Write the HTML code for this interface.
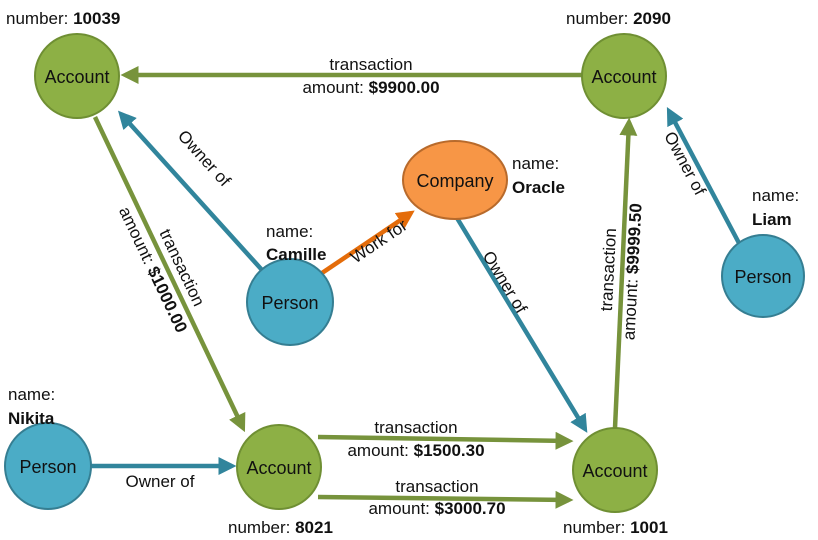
<!DOCTYPE html>
<html><head><meta charset="utf-8"><style>
html,body{margin:0;padding:0;background:#fff}
svg{display:block}
text{font-family:"Liberation Sans",sans-serif;font-size:17px;fill:#111}
.n{font-size:18px}
.b{font-weight:bold}
</style></head><body>
<svg width="818" height="540" viewBox="0 0 818 540" xmlns="http://www.w3.org/2000/svg">
<defs>
<marker id="g" markerWidth="4" markerHeight="4" refX="3" refY="2" orient="auto" markerUnits="strokeWidth"><path d="M0,0 L4,2 L0,4 Z" fill="#77933c"/></marker>
<marker id="bl" markerWidth="4" markerHeight="4" refX="3" refY="2" orient="auto" markerUnits="strokeWidth"><path d="M0,0 L4,2 L0,4 Z" fill="#31859c"/></marker>
<marker id="o" markerWidth="4" markerHeight="4" refX="3" refY="2" orient="auto" markerUnits="strokeWidth"><path d="M0,0 L4,2 L0,4 Z" fill="#e46c0a"/></marker>
</defs>
<g stroke-width="4.5" fill="none">
<line x1="582" y1="75" x2="125" y2="75" stroke="#77933c" marker-end="url(#g)"/>
<line x1="262" y1="270" x2="121" y2="114" stroke="#31859c" marker-end="url(#bl)"/>
<line x1="95" y1="117" x2="243" y2="428" stroke="#77933c" marker-end="url(#g)"/>
<line x1="322" y1="273" x2="411" y2="213" stroke="#e46c0a" marker-end="url(#o)"/>
<line x1="457" y1="218" x2="585" y2="429" stroke="#31859c" marker-end="url(#bl)"/>
<line x1="615" y1="428" x2="629" y2="122" stroke="#77933c" marker-end="url(#g)"/>
<line x1="740" y1="245" x2="669" y2="111" stroke="#31859c" marker-end="url(#bl)"/>
<line x1="91" y1="466" x2="232" y2="466" stroke="#31859c" marker-end="url(#bl)"/>
<line x1="318" y1="437" x2="569" y2="441" stroke="#77933c" marker-end="url(#g)"/>
<line x1="318" y1="497" x2="569" y2="500" stroke="#77933c" marker-end="url(#g)"/>
</g>
<g stroke-width="2">
<circle cx="77" cy="76" r="42" fill="#8db045" stroke="#6f8f33"/>
<circle cx="624" cy="76" r="42" fill="#8db045" stroke="#6f8f33"/>
<circle cx="279" cy="467" r="42" fill="#8db045" stroke="#6f8f33"/>
<circle cx="615" cy="470" r="42" fill="#8db045" stroke="#6f8f33"/>
<ellipse cx="455" cy="180" rx="52" ry="39" fill="#f79646" stroke="#b86a2b"/>
<circle cx="290" cy="302" r="43" fill="#4bacc6" stroke="#357e92"/>
<circle cx="763" cy="276" r="41" fill="#4bacc6" stroke="#357e92"/>
<circle cx="48" cy="466" r="43" fill="#4bacc6" stroke="#357e92"/>
</g>
<g text-anchor="middle">
<text x="77" y="83" class="n">Account</text>
<text x="624" y="83" class="n">Account</text>
<text x="279" y="474" class="n">Account</text>
<text x="615" y="477" class="n">Account</text>
<text x="455" y="187" class="n">Company</text>
<text x="290" y="309" class="n">Person</text>
<text x="763" y="283" class="n">Person</text>
<text x="48" y="473" class="n">Person</text>
</g>
<text x="6" y="24">number: <tspan class="b">10039</tspan></text>
<text x="566" y="24">number: <tspan class="b">2090</tspan></text>
<text x="228" y="533">number: <tspan class="b">8021</tspan></text>
<text x="563" y="533">number: <tspan class="b">1001</tspan></text>
<text x="512" y="169">name:</text><text x="512" y="193" class="b">Oracle</text>
<text x="266" y="237">name:</text><text x="266" y="260" class="b">Camille</text>
<text x="752" y="201">name:</text><text x="752" y="225" class="b">Liam</text>
<text x="8" y="400">name:</text><text x="8" y="424" class="b">Nikita</text>
<g text-anchor="middle">
<text x="371" y="70">transaction</text>
<text x="371" y="93">amount: <tspan class="b">$9900.00</tspan></text>
<text transform="translate(200,162) rotate(47.8)">Owner of</text>
<text transform="translate(177,270) rotate(64.6)">transaction</text>
<text transform="translate(148,272) rotate(64.6)">amount: <tspan class="b">$1000.00</tspan></text>
<text transform="translate(382,246) rotate(-34)">Work for</text>
<text transform="translate(500,285) rotate(58.8)">Owner of</text>
<text transform="translate(614,270) rotate(-87)">transaction</text>
<text transform="translate(638,272) rotate(-87)">amount: <tspan class="b">$9999.50</tspan></text>
<text transform="translate(680,166) rotate(62)">Owner of</text>
<text x="160" y="487">Owner of</text>
<text x="416" y="433">transaction</text>
<text x="416" y="456">amount: <tspan class="b">$1500.30</tspan></text>
<text x="437" y="492">transaction</text>
<text x="437" y="514">amount: <tspan class="b">$3000.70</tspan></text>
</g>
</svg>
</body></html>
